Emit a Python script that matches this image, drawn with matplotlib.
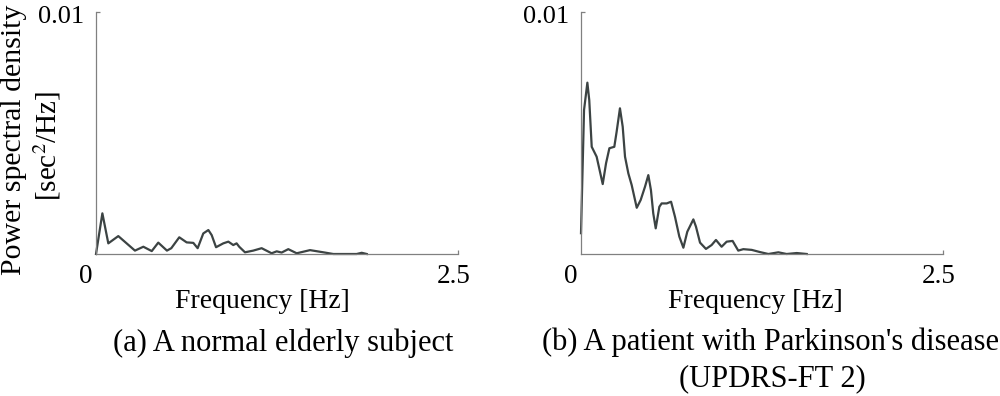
import matplotlib.pyplot as plt

# Power spectral density
freq_a = [0.0, 0.044, 0.085, 0.154, 0.269, 0.327, 0.385, 0.43, 0.49, 0.52,
          0.575, 0.626, 0.672, 0.702, 0.741, 0.776, 0.799, 0.829, 0.879, 0.914,
          0.948, 0.971, 0.989, 1.029, 1.086, 1.144, 1.213, 1.248, 1.282, 1.328,
          1.386, 1.478, 1.57, 1.639, 1.80, 1.835, 1.87]
psd_a = [0.0, 0.00168, 0.00044, 0.00074, 0.00014, 0.0003, 0.00012, 0.00047, 0.00014, 0.00024,
         0.00069, 0.00048, 0.00046, 0.00024, 0.00085, 0.00099, 0.00078, 0.00028, 0.00044, 0.00051,
         0.00037, 0.00044, 0.0003, 0.00007, 0.00014, 0.00024, 0.00003, 0.00011, 0.00006, 0.0002,
         0.00003, 0.00016, 0.00007, 0.0, 0.0, 0.00005, 0.0]

freq_b = [0.0, 0.021, 0.044, 0.057, 0.074, 0.108, 0.15, 0.173, 0.196, 0.23,
          0.246, 0.269, 0.288, 0.304, 0.327, 0.35, 0.385, 0.412, 0.442, 0.465,
          0.483, 0.499, 0.516, 0.541, 0.557, 0.592, 0.622, 0.649, 0.679, 0.707,
          0.734, 0.776, 0.794, 0.822, 0.863, 0.902, 0.932, 0.971, 1.006, 1.047,
          1.086, 1.121, 1.179, 1.236, 1.294, 1.363, 1.42, 1.49, 1.559]
psd_b = [0.00086, 0.00595, 0.00708, 0.00636, 0.00443, 0.00402, 0.00289, 0.00375, 0.00437, 0.00443,
         0.00505, 0.00602, 0.00526, 0.00402, 0.00333, 0.00285, 0.00191, 0.00223, 0.00278, 0.00326,
         0.00264, 0.00168, 0.00106, 0.00195, 0.00209, 0.00209, 0.00216, 0.00154, 0.00072, 0.00026,
         0.00092, 0.00143, 0.00113, 0.00047, 0.00021, 0.00037, 0.00058, 0.0003, 0.00051, 0.00054,
         0.00014, 0.0002, 0.00017, 0.00008, 0.0, 0.00007, 0.0, 0.00004, 0.0]

plt.rcParams['font.family'] = ['Liberation Serif', 'DejaVu Serif']
plt.rcParams['mathtext.fontset'] = 'stix'

W, H = 1000, 396
fig = plt.figure(figsize=(10, 3.96), dpi=100)


def px(x, y):
    return x / W, 1 - y / H


def panel(left, freq, psd):
    ax = fig.add_axes([left / W, 142 / H, 362 / W, 242 / H])
    ax.plot(freq, psd, color='#3c4343', linewidth=1.6, clip_on=False)
    ax.set_xlim(0, 2.5)
    ax.set_ylim(0, 0.01)
    for s in ['top', 'right']:
        ax.spines[s].set_visible(False)
    for s in ['left', 'bottom']:
        ax.spines[s].set_color('#808080')
        ax.spines[s].set_linewidth(0.9)
    ax.set_xticks([2.5])
    ax.set_yticks([0.01])
    ax.tick_params(direction='in', length=3, width=0.9, color='#808080',
                   labelbottom=False, labelleft=False)
    return ax


panel(96, freq_a, psd_a)
panel(581, freq_b, psd_b)

# tick labels
for x0 in (96, 581):
    fig.text(*px(x0 - 10, 283), '0', fontsize=19.5, ha='center', va='baseline')
    fig.text(*px(x0 + 358, 283), '2.5', fontsize=19.5, ha='center', va='baseline')
    fig.text(*px(x0 - 12, 23), '0.01', fontsize=19, ha='right', va='baseline')

# axis labels and captions
fig.text(*px(262, 308), 'Frequency [Hz]', fontsize=20, ha='center', va='baseline')
fig.text(*px(755, 308), 'Frequency [Hz]', fontsize=20, ha='center', va='baseline')
fig.text(*px(283, 351), '(a) A normal elderly subject', fontsize=22, ha='center', va='baseline')
fig.text(*px(771, 350), "(b) A patient with Parkinson's disease", fontsize=22,
         ha='center', va='baseline')
fig.text(*px(772, 386), '(UPDRS-FT 2)', fontsize=22, ha='center', va='baseline')

fig.text(*px(14, 140), 'Power spectral density', fontsize=21.5, rotation=90,
         ha='center', va='center')
fig.text(*px(47, 146), r'[sec$^2$/Hz]', fontsize=21, rotation=90,
         ha='center', va='center')

fig.savefig('out.png', dpi=100)
